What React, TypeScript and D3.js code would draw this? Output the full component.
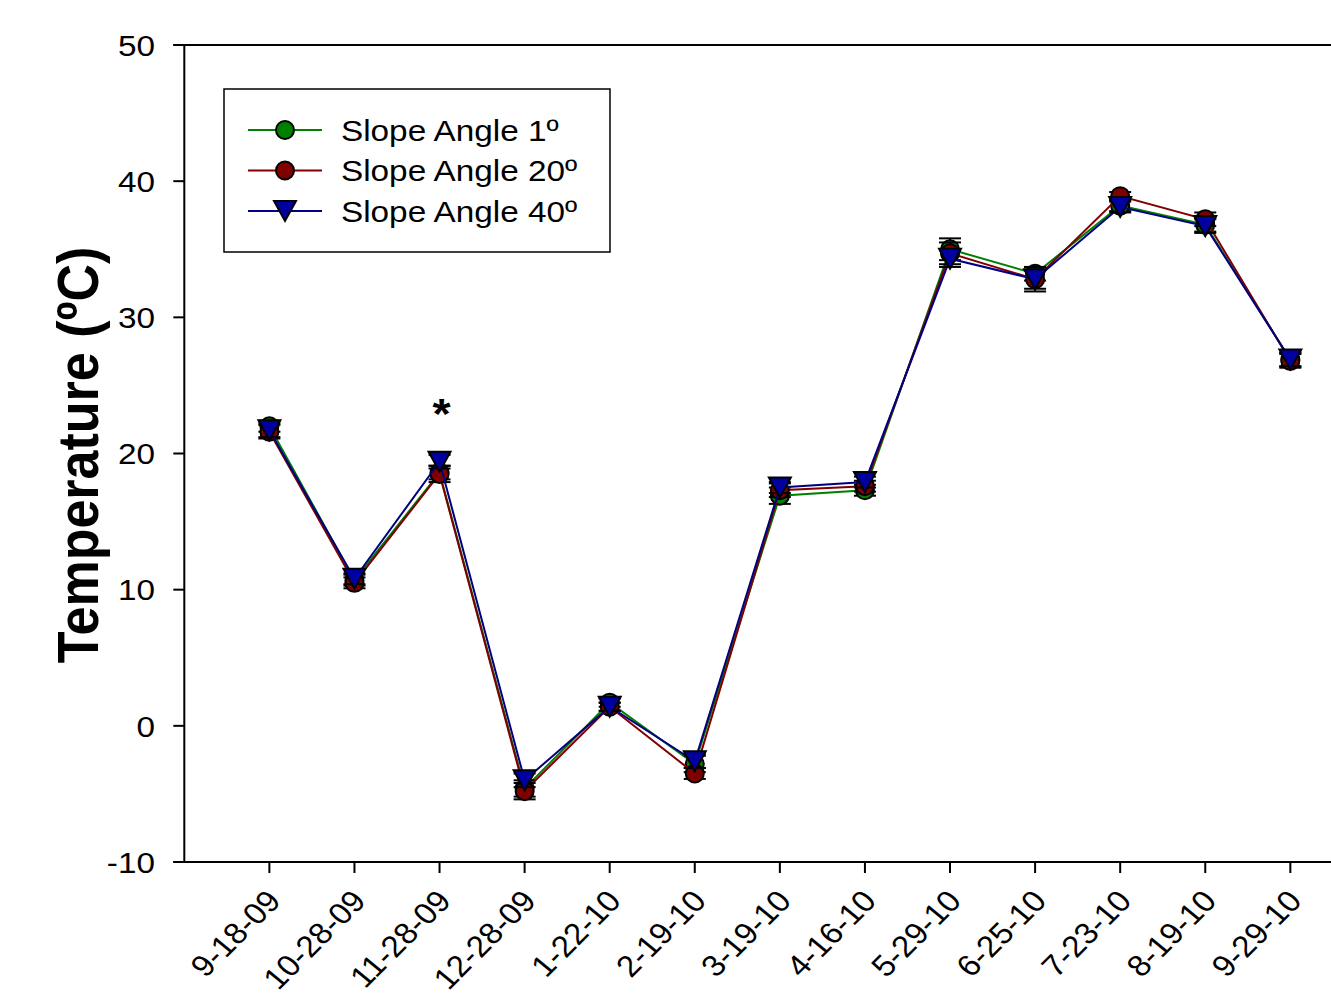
import React from "react";
import * as d3 from "d3";

const categories = ["9-18-09","10-28-09","11-28-09","12-28-09","1-22-10","2-19-10","3-19-10","4-16-10","5-29-10","6-25-10","7-23-10","8-19-10","9-29-10"];
const slope1 = [22.0,10.7,18.6,-4.6,1.7,-2.8,16.9,17.3,35.0,33.2,38.2,36.8,26.9];
const slope20 = [21.6,10.5,18.5,-4.8,1.4,-3.5,17.3,17.6,34.7,32.8,38.9,37.2,26.8];
const slope40 = [21.7,10.8,19.4,-4.0,1.4,-2.6,17.5,17.9,34.3,32.8,38.1,36.7,26.9];
const err1 = [0.4,0.4,0.5,0.6,0.3,0.6,0.6,0.4,0.8,0.5,0.4,0.5,0.5];
const err20 = [0.5,0.4,0.6,0.6,0.3,0.4,0.5,0.4,0.8,0.9,0.3,0.5,0.5];
const err40 = [0.5,0.4,0.5,0.5,0.3,0.5,0.4,0.4,0.6,0.7,0.4,0.5,0.5];
const yTicks = [-10,0,10,20,30,40,50];
const seriesNames = ["Slope Angle 1º","Slope Angle 20º","Slope Angle 40º"];

const series = [
  { name: seriesNames[0], values: slope1, errs: err1, color: "#008000", fill: "#008000", shape: "circle" },
  { name: seriesNames[1], values: slope20, errs: err20, color: "#800000", fill: "#800000", shape: "circle" },
  { name: seriesNames[2], values: slope40, errs: err40, color: "#000080", fill: "#0000a0", shape: "triangle" },
];

const W = 1331, H = 996;
const left = 184.3, top = 45, bottom = 862;
const step = 85.08;
const SX = 1.11;
const x = d3.scaleLinear().domain([0, 14]).range([left, left + 14 * step]);
const y = d3.scaleLinear().domain([-10, 50]).range([bottom, top]);

const font = "'Liberation Sans', Arial, sans-serif";

function Marker({ shape, cx, cy, fill }: any) {
  if (shape === "circle") {
    return <circle cx={cx} cy={cy} r={9} fill={fill} stroke="#000" strokeWidth={2} />;
  }
  const w = 11, h = 18;
  const p = `M${cx - w},${cy - h / 2 - 1}L${cx + w},${cy - h / 2 - 1}L${cx},${cy + h / 2 + 1}Z`;
  return <path d={p} fill={fill} stroke="#000" strokeWidth={2} strokeLinejoin="miter" />;
}

export default function App() {
  const line = d3.line<number>().x((_, i) => x(i + 1)).y((v) => y(v));
  return (
    <svg width={W} height={H} style={{ position: "absolute", left: 0, top: 0, background: "#fff" }}>
      <rect x={0} y={0} width={W} height={H} fill="#fff" />
      <line x1={left} y1={top} x2={left} y2={bottom} stroke="#000" strokeWidth={2} />
      <line x1={left - 11} y1={bottom} x2={W} y2={bottom} stroke="#000" strokeWidth={2} />
      <line x1={left - 11} y1={top} x2={W} y2={top} stroke="#000" strokeWidth={2} />
      {yTicks.map((t) => (
        <g key={t}>
          <line x1={left - 11} x2={left} y1={y(t)} y2={y(t)} stroke="#000" strokeWidth={2} />
          <text transform={`translate(155,${y(t)}) scale(${SX},1)`} dy="0.36em" textAnchor="end" fontFamily={font} fontSize={30} fill="#000">{t}</text>
        </g>
      ))}
      {categories.map((c, i) => (
        <g key={c}>
          <line x1={x(i + 1)} x2={x(i + 1)} y1={bottom} y2={bottom + 11} stroke="#000" strokeWidth={2} />
          <text transform={`translate(${x(i + 1) + 13},${bottom + 40}) scale(${SX},1) rotate(-48)`} textAnchor="end" fontFamily={font} fontSize={30} fill="#000">{c}</text>
        </g>
      ))}
      <text transform={`translate(98,455) scale(${SX},1) rotate(-90)`} textAnchor="middle" fontFamily={font} fontWeight="bold" fontSize={52} fill="#000">Temperature (ºC)</text>
      {series.map((s) => (
        <g key={s.name}>
          <path d={line(s.values) || ""} fill="none" stroke={s.color} strokeWidth={2} />
          {s.values.map((v, i) => (
            <g key={i}>
              <line x1={x(i + 1)} x2={x(i + 1)} y1={y(v - s.errs[i])} y2={y(v + s.errs[i])} stroke="#000" strokeWidth={2} />
              <line x1={x(i + 1) - 11} x2={x(i + 1) + 11} y1={y(v - s.errs[i])} y2={y(v - s.errs[i])} stroke="#000" strokeWidth={2} />
              <line x1={x(i + 1) - 11} x2={x(i + 1) + 11} y1={y(v + s.errs[i])} y2={y(v + s.errs[i])} stroke="#000" strokeWidth={2} />
              <Marker shape={s.shape} cx={x(i + 1)} cy={y(v)} fill={s.fill} />
            </g>
          ))}
        </g>
      ))}
      <text transform={`translate(${x(3) + 2},428) scale(${SX},1)`} textAnchor="middle" fontFamily={font} fontWeight="bold" fontSize={42} fill="#000">*</text>
      <rect x={224} y={89} width={386} height={163} fill="#fff" stroke="#000" strokeWidth={1.5} />
      {series.map((s, i) => {
        const ly = 130 + i * 40.5;
        return (
          <g key={s.name}>
            <line x1={248} x2={322} y1={ly} y2={ly} stroke={s.color} strokeWidth={2} />
            <Marker shape={s.shape} cx={285} cy={ly} fill={s.fill} />
            <text transform={`translate(341,${ly}) scale(${SX},1)`} dy="0.36em" fontFamily={font} fontSize={30} fill="#000">{s.name}</text>
          </g>
        );
      })}
    </svg>
  );
}
